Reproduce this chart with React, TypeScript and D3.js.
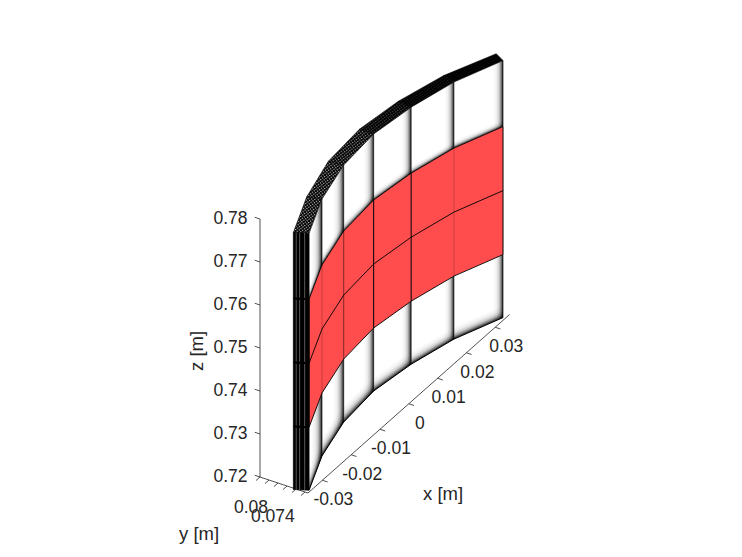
import React from "react";
import * as d3 from "d3";

// panel corner stations on the curved shell (metres)
const innerX = [-0.0341, -0.0231, -0.0114, 0.0003, 0.0115, 0.0227, 0.0335];
const innerY = [0.0738, 0.0763, 0.0779, 0.0784, 0.0777, 0.0763, 0.0739];
const outerX = [-0.0354, -0.024, -0.0118, 0.0003, 0.0119, 0.0236, 0.0348];
const outerY = [0.0754, 0.078, 0.0798, 0.0803, 0.0796, 0.078, 0.0753];
const zLevels = [0.72, 0.73465, 0.74953, 0.76442, 0.77977];

const endFaceStripes = [0.28, 0.6, 0.82];

const xTicks = [-0.03, -0.02, -0.01, 0, 0.01, 0.02, 0.03];
const xTickLabels = ["-0.03", "-0.02", "-0.01", "0", "0.01", "0.02", "0.03"];
const yTicks = [0.08, 0.0788, 0.0776, 0.0764, 0.0752, 0.074];
const yTickLabels = ["0.08", "", "", "", "", "0.074"];
const zTicks = [0.72, 0.73, 0.74, 0.75, 0.76, 0.77, 0.78];
const zTickLabels = ["0.72", "0.73", "0.74", "0.75", "0.76", "0.77", "0.78"];
const xLim = [-0.035, 0.035];
const yLim = [0.0736, 0.08];

// style per station / panel
const seamOpacity = [1, 0.22, 0.5, 1, 1, 0.2, 1];
const topSpeckle = [0.75, 0.72, 0.6, 0.3, 0.12, 0.05];
const bandFraction = [0.85, 0.5, 0.34, 0.26, 0.22, 0.2];
const rowBandFraction = [0.2, 0.11];
const rowBandScale = [1.7, 1.5, 1.3, 1.1, 1, 1];
const bandStops = [
  [0, 0],
  [0.35, 0.06],
  [0.6, 0.2],
  [0.8, 0.48],
  [0.92, 0.75],
  [1, 0.92],
];

const xToSx = d3.scaleLinear().domain([-0.035, 0.035]).range([308, 509.6]);
const xToSy = d3.scaleLinear().domain([-0.035, 0.035]).range([0, -178.5]);
const yToSx = d3.scaleLinear().domain([0.0736, 0.08]).range([0, -48]);
const yToSy = d3.scaleLinear().domain([0.0736, 0.08]).range([0, -16]);
const zToSy = d3.scaleLinear().domain([0.72, 0.78]).range([493, 235]);

const P = (x: number, y: number, z: number): [number, number] => [
  xToSx(x) + yToSx(y),
  zToSy(z) + xToSy(x) + yToSy(y),
];
const line = d3.line<[number, number]>();
const lerp = d3.interpolateNumber;
const inner = (i: number, t: number) => [lerp(innerX[i], innerX[i + 1])(t), lerp(innerY[i], innerY[i + 1])(t)];
const dark = "#262626";
const FONT = "'Liberation Sans', Arial, sans-serif";
const FS = 17.5;
const LS = 18.5;

const Stops = () => (
  <>
    {bandStops.map(([o, a]) => (
      <stop key={o} offset={o} stopColor="#000" stopOpacity={a} />
    ))}
  </>
);

export default function App() {
  const panels = d3.range(innerX.length - 1);
  const zTop = zLevels[4];
  const rowPoly = (z0: number, z1: number) => {
    const a = innerX.map((x, i) => P(x, innerY[i], z0));
    const b = innerX.map((x, i) => P(x, innerY[i], z1)).reverse();
    return line([...a, ...b]) + "Z";
  };
  const rowLine = (z: number, i: number) =>
    line([P(innerX[i], innerY[i], z), P(innerX[i + 1], innerY[i + 1], z)])!;
  const rows: [number, number, number][] = [
    [zLevels[0], zLevels[1], rowBandFraction[0]],
    [zLevels[3], zLevels[4], rowBandFraction[1]],
  ];

  // vertical seam bands: one side of each seam, the right end of each panel
  const vBands = panels.flatMap((i) => {
    const [x0, y0] = inner(i, 1 - bandFraction[i]);
    const x1 = innerX[i + 1];
    const y1 = innerY[i + 1];
    return rows.map(([za, zb], r) => ({
      id: `v${i}_${r}`,
      gx1: P(x0, y0, za)[0],
      gx2: P(x1, y1, za)[0],
      d: line([P(x0, y0, za), P(x1, y1, za), P(x1, y1, zb), P(x0, y0, zb)])! + "Z",
    }));
  });

  // bands rising from the lower edge of each white row
  const hBands = panels.flatMap((i) =>
    rows.map(([za, zb, frac], r) => {
      const zm = lerp(za, zb)(frac * rowBandScale[i]);
      const a = P(innerX[i], innerY[i], za);
      const b = P(innerX[i + 1], innerY[i + 1], za);
      const h = zToSy(za) - zToSy(zm);
      const dx = b[0] - a[0];
      const dy = b[1] - a[1];
      const len = Math.hypot(dx, dy);
      const nx = -dy / len;
      const ny = dx / len;
      const dist = Math.abs(h * ny);
      return {
        id: `h${i}_${r}`,
        x1: a[0] - nx * dist,
        y1: a[1] - ny * dist,
        x2: a[0],
        y2: a[1],
        d: line([a, b, P(innerX[i + 1], innerY[i + 1], zm), P(innerX[i], innerY[i], zm)])! + "Z",
      };
    })
  );

  const endL = [P(innerX[0], innerY[0], zLevels[0]), P(outerX[0], outerY[0], zLevels[0]), P(outerX[0], outerY[0], zTop), P(innerX[0], innerY[0], zTop)];

  return (
    <svg width={742} height={557} style={{ position: "absolute", left: 0, top: 0, background: "#fff" }} fontFamily={FONT} fontSize={FS} fill={dark}>
      <defs>
        {panels.map((i) => (
          <pattern key={i} id={`sp${i}`} width={2.4} height={2.4} patternUnits="userSpaceOnUse" patternTransform="rotate(-38)">
            <rect width={2.4} height={2.4} fill="#000" />
            <rect x={0} y={0} width={1.2} height={1.2} fill="#fff" opacity={topSpeckle[i]} />
          </pattern>
        ))}
        {vBands.map((b) => (
          <linearGradient key={b.id} id={b.id} gradientUnits="userSpaceOnUse" x1={b.gx1} x2={b.gx2} y1={0} y2={0}>
            <Stops />
          </linearGradient>
        ))}
        {hBands.map((b) => (
          <linearGradient key={b.id} id={b.id} gradientUnits="userSpaceOnUse" x1={b.x1} y1={b.y1} x2={b.x2} y2={b.y2}>
            <Stops />
          </linearGradient>
        ))}
      </defs>

      {/* axes */}
      <g stroke={dark} strokeWidth={0.8} fill="none">
        <path d={line([P(xLim[0], yLim[0], 0.72), P(xLim[1], yLim[0], 0.72)])!} />
        <path d={line([P(xLim[0], yLim[0], 0.72), P(xLim[0], yLim[1], 0.72)])!} />
        <path d={line([P(xLim[0], yLim[1], 0.72), P(xLim[0], yLim[1], 0.78)])!} />
        {xTicks.map((t) => {
          const a = P(t, yLim[0], 0.72);
          return <path key={t} d={line([a, P(t, yLim[0] - 0.0007, 0.72)])!} />;
        })}
        {yTicks.map((t) => {
          const a = P(xLim[0], t, 0.72);
          return <path key={t} d={line([a, P(xLim[0] - 0.0014, t, 0.72)])!} />;
        })}
        {zTicks.map((t) => {
          const a = P(xLim[0], yLim[1], t);
          return <path key={t} d={line([a, P(xLim[0], yLim[1] + 0.0007, t)])!} />;
        })}
      </g>

      {/* front face: white rows and graded mesh shading */}
      <path d={rowPoly(zLevels[0], zLevels[4])} fill="#fff" />
      {vBands.map((b) => <path key={b.id} d={b.d} fill={`url(#${b.id})`} />)}
      {hBands.map((b) => <path key={b.id} d={b.d} fill={`url(#${b.id})`} />)}
      <path d={rowPoly(zLevels[1], zLevels[3])} fill="#FF4D4D" />

      {/* station seams */}
      {innerX.map((x, i) => (
        <g key={i} stroke="#000" fill="none" strokeWidth={1}>
          <path d={line([P(x, innerY[i], zLevels[0]), P(x, innerY[i], zLevels[1])])!} opacity={i === 0 ? 0 : 0.6} />
          <path d={line([P(x, innerY[i], zLevels[3]), P(x, innerY[i], zLevels[4])])!} opacity={i === 0 ? 0 : 0.6} />
          <path d={line([P(x, innerY[i], zLevels[1]), P(x, innerY[i], zLevels[3])])!} opacity={seamOpacity[i]} />
        </g>
      ))}
      {/* row lines */}
      <g stroke="#000" strokeWidth={0.9} fill="none">
        {panels.map((i) => (
          <g key={i}>
            {[zLevels[1], zLevels[2], zLevels[3]].map((z) => <path key={z} d={rowLine(z, i)} />)}
            <path d={rowLine(zLevels[0], i)} strokeWidth={1} />
          </g>
        ))}
      </g>

      {/* top thickness strip */}
      {panels.map((i) => (
        <path
          key={i}
          d={line([
            P(innerX[i], innerY[i], zTop),
            P(innerX[i + 1], innerY[i + 1], zTop),
            P(outerX[i + 1], outerY[i + 1], zTop),
            P(outerX[i], outerY[i], zTop),
          ])! + "Z"}
          fill={`url(#sp${i})`}
          stroke="#000"
          strokeWidth={0.6}
        />
      ))}

      {/* left end face */}
      <path d={line(endL)! + "Z"} fill="#000" stroke="#000" strokeWidth={0.7} />
      {endFaceStripes.map((f) => {
        const x = lerp(innerX[0], outerX[0])(f);
        const y = lerp(innerY[0], outerY[0])(f);
        return <path key={f} d={line([P(x, y, zLevels[0]), P(x, y, zTop)])!} stroke="#fff" strokeWidth={0.8} opacity={0.45} fill="none" />;
      })}
      {zLevels.slice(1, 4).map((z) => (
        <path key={z} d={line([P(innerX[0], innerY[0], z), P(outerX[0], outerY[0], z)])!} stroke="#000" strokeWidth={2} fill="none" />
      ))}

      {/* tick labels */}
      {xTicks.map((t, i) => {
        const [sx, sy] = P(t, yLim[0], 0.72);
        return <text key={t} x={sx + 11} y={sy + 25} textAnchor="middle">{xTickLabels[i]}</text>;
      })}
      {zTicks.map((t, i) => {
        const [, sy] = P(xLim[0], yLim[1], t);
        return <text key={t} x={247.5} y={sy + 5} textAnchor="end">{zTickLabels[i]}</text>;
      })}
      {yTicks.map((t, i) => {
        if (!yTickLabels[i]) return null;
        return <text key={t} x={i === 0 ? 234 : 251} y={i === 0 ? 513 : 522}>{yTickLabels[i]}</text>;
      })}
      <text x={423} y={500} fontSize={LS}>x [m]</text>
      <text x={179} y={540} fontSize={LS}>y [m]</text>
      <text transform="translate(203,371) rotate(-90)" fontSize={LS}>z [m]</text>
    </svg>
  );
}
